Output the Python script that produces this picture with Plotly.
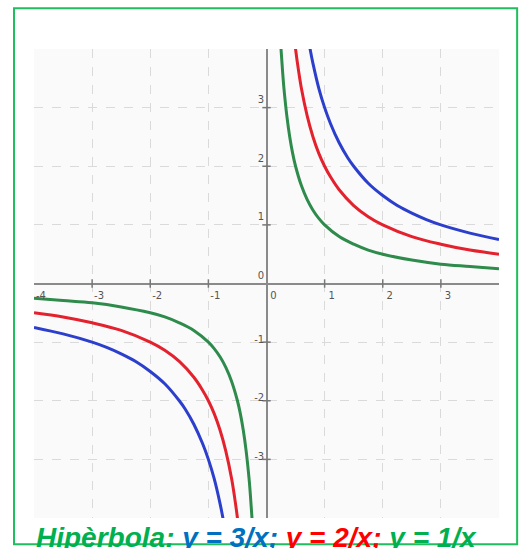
import plotly.graph_objects as go

# Hipèrbola y = k/x, valors llegits del gràfic
x_pos_3 = [0.7, 0.75, 0.8, 0.9, 1, 1.1, 1.25, 1.4, 1.5, 1.75, 2, 2.25, 2.5, 2.75, 3, 3.5, 4]
y_pos_3 = [4.29, 4, 3.75, 3.33, 3, 2.73, 2.4, 2.14, 2, 1.71, 1.5, 1.33, 1.2, 1.09, 1, 0.86, 0.75]
x_neg_3 = [-4, -3.5, -3, -2.75, -2.5, -2.25, -2, -1.75, -1.5, -1.4, -1.25, -1.1, -1, -0.9, -0.8, -0.75, -0.7]
y_neg_3 = [-0.75, -0.86, -1, -1.09, -1.2, -1.33, -1.5, -1.71, -2, -2.14, -2.4, -2.73, -3, -3.33, -3.75, -4, -4.29]

x_pos_2 = [0.45, 0.5, 0.55, 0.6, 0.7, 0.8, 0.9, 1, 1.1, 1.25, 1.5, 1.75, 2, 2.5, 3, 3.5, 4]
y_pos_2 = [4.44, 4, 3.64, 3.33, 2.86, 2.5, 2.22, 2, 1.82, 1.6, 1.33, 1.14, 1, 0.8, 0.67, 0.57, 0.5]
x_neg_2 = [-4, -3.5, -3, -2.5, -2, -1.75, -1.5, -1.25, -1.1, -1, -0.9, -0.8, -0.7, -0.6, -0.55, -0.5, -0.45]
y_neg_2 = [-0.5, -0.57, -0.67, -0.8, -1, -1.14, -1.33, -1.6, -1.82, -2, -2.22, -2.5, -2.86, -3.33, -3.64, -4, -4.44]

x_pos_1 = [0.22, 0.25, 0.28, 0.3, 0.35, 0.4, 0.45, 0.5, 0.6, 0.7, 0.8, 0.9, 1, 1.25, 1.5, 1.75, 2, 2.5, 3, 3.5, 4]
y_pos_1 = [4.55, 4, 3.57, 3.33, 2.86, 2.5, 2.22, 2, 1.67, 1.43, 1.25, 1.11, 1, 0.8, 0.67, 0.57, 0.5, 0.4, 0.33, 0.29, 0.25]
x_neg_1 = [-4, -3.5, -3, -2.5, -2, -1.75, -1.5, -1.25, -1, -0.9, -0.8, -0.7, -0.6, -0.5, -0.45, -0.4, -0.35, -0.3, -0.28, -0.25, -0.22]
y_neg_1 = [-0.25, -0.29, -0.33, -0.4, -0.5, -0.57, -0.67, -0.8, -1, -1.11, -1.25, -1.43, -1.67, -2, -2.22, -2.5, -2.86, -3.33, -3.57, -4, -4.55]

x_ticks = [-4, -3, -2, -1, 0, 1, 2, 3]
x_tick_labels = ["-4", "-3", "-2", "-1", "0", "1", "2", "3"]
y_ticks = [3, 2, 1, 0, -1, -2, -3]
y_tick_labels = ["3", "2", "1", "0", "-1", "-2", "-3"]

colors = {"3": "#2b3fcc", "2": "#e3222e", "1": "#2e8b4c"}

fig = go.Figure()

# marques de graduació sobre els eixos
fig.add_trace(go.Scatter(x=[-3, -2, -1, 1, 2, 3], y=[0] * 6, mode="markers",
                         marker=dict(symbol="line-ns", size=6, line=dict(width=1.5, color="#777")),
                         hoverinfo="skip"))
fig.add_trace(go.Scatter(x=[0] * 6, y=[-3, -2, -1, 1, 2, 3], mode="markers",
                         marker=dict(symbol="line-ew", size=6, line=dict(width=1.5, color="#777")),
                         hoverinfo="skip"))

for k, xp, yp, xn, yn in [("3", x_pos_3, y_pos_3, x_neg_3, y_neg_3),
                          ("2", x_pos_2, y_pos_2, x_neg_2, y_neg_2),
                          ("1", x_pos_1, y_pos_1, x_neg_1, y_neg_1)]:
    fig.add_trace(go.Scatter(x=xn + [None] + xp, y=yn + [None] + yp,
                             mode="lines",
                             line=dict(color=colors[k], width=3, shape="spline"),
                             name="y = %s/x" % k))

# etiquetes dels eixos (a l'estil GeoGebra)
fig.add_trace(go.Scatter(x=[v + 0.12 for v in x_ticks], y=[-0.22] * len(x_ticks),
                         mode="text", text=x_tick_labels, cliponaxis=False,
                         textfont=dict(size=10, color="#555", family="DejaVu Sans"),
                         hoverinfo="skip"))
fig.add_trace(go.Scatter(x=[-0.04] * len(y_ticks),
                         y=[v + 0.12 if v >= 0 else v + 0.03 for v in y_ticks],
                         mode="text", text=y_tick_labels, textposition="middle left",
                         cliponaxis=False,
                         textfont=dict(size=10, color="#555", family="DejaVu Sans"),
                         hoverinfo="skip"))

axis = dict(range=[-4, 4], dtick=1, showticklabels=False, ticks="",
            showgrid=True, gridcolor="#dadada", griddash="dash", gridwidth=1,
            zeroline=True, zerolinecolor="#8a8a8a", zerolinewidth=2,
            showline=False, fixedrange=True)

caption = ("<b><i><span style='color:#00b050'>Hipèrbola:</span> "
           "<span style='color:#0070c0'>y = 3/x;</span> "
           "<span style='color:#ff0000'>y = 2/x;</span> "
           "<span style='color:#00b050'>y = 1/x</span></i></b>")

fig.update_layout(
    width=528, height=548,
    margin=dict(l=34, r=29, t=49, b=30),
    paper_bgcolor="white", plot_bgcolor="#fafafa",
    showlegend=False,
    xaxis=axis, yaxis=axis,
    shapes=[dict(type="rect", xref="paper", yref="paper",
                 x0=-0.043, x1=1.039, y0=-0.056, y1=1.087,
                 line=dict(color="#1fbf5f", width=2))],
    annotations=[dict(text=caption, xref="paper", yref="paper",
                      x=0.0, y=-0.004, xanchor="left", yanchor="top",
                      showarrow=False,
                      font=dict(size=28, family="Liberation Sans"))],
)

fig.write_html("out.html", config={"displayModeBar": False},
               post_script="document.body.style.margin='0';")
